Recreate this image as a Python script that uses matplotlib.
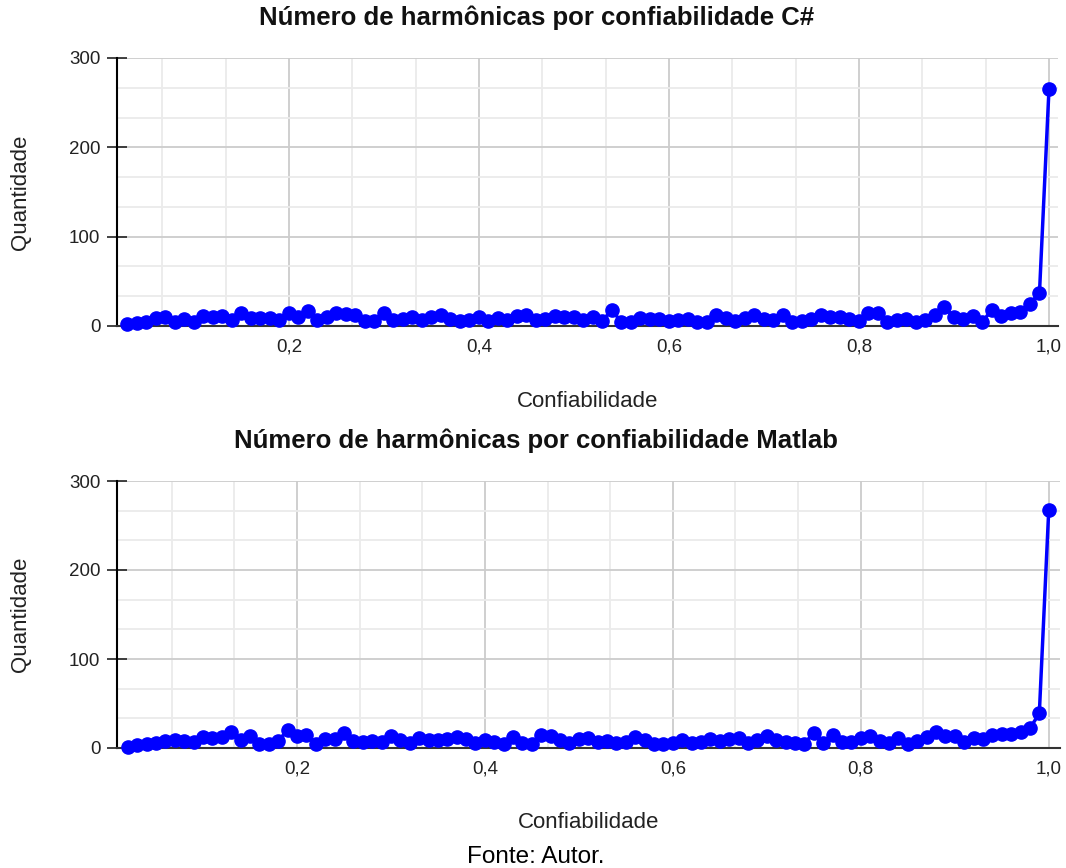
import matplotlib
matplotlib.use("Agg")
import matplotlib.pyplot as plt
from matplotlib.ticker import FuncFormatter, MultipleLocator

plt.rcParams['font.family'] = ['Liberation Sans', 'DejaVu Sans']

# Confiabilidade (eixo x) de cada série
conf_csharp = [round(0.03 + 0.01 * i, 2) for i in range(98)]
conf_matlab = [round(0.02 + 0.01 * i, 2) for i in range(99)]

# Quantidade de harmônicas - C# (0,03 a 1,00)
qtd_csharp = [
    2, 3, 5, 9, 10, 5, 8, 5, 11, 10,
    11, 7, 15, 9, 9, 9, 7, 14, 10, 17,
    7, 10, 15, 13, 12, 6, 6, 15, 7, 8,
    10, 7, 10, 12, 8, 6, 7, 10, 6, 9,
    7, 11, 12, 7, 8, 11, 10, 10, 7, 10,
    6, 18, 4, 5, 9, 8, 8, 6, 7, 8,
    5, 5, 12, 9, 6, 9, 12, 8, 7, 12,
    5, 6, 8, 12, 10, 10, 8, 6, 14, 14,
    5, 7, 8, 5, 7, 12, 21, 10, 8, 11,
    5, 18, 11, 14, 16, 25, 37, 265,
]

# Quantidade de harmônicas - Matlab (0,02 a 1,00)
qtd_matlab = [
    1, 3, 5, 6, 8, 9, 8, 7, 12, 11,
    12, 18, 9, 13, 4, 4, 8, 20, 13, 15,
    5, 10, 10, 17, 8, 7, 8, 7, 13, 9,
    6, 11, 9, 9, 10, 12, 10, 6, 9, 7,
    4, 12, 6, 5, 15, 14, 9, 6, 10, 11,
    7, 8, 6, 7, 12, 9, 5, 5, 6, 9,
    6, 7, 10, 8, 10, 11, 6, 9, 13, 9,
    7, 6, 5, 17, 6, 15, 7, 7, 11, 13,
    8, 6, 11, 5, 8, 12, 18, 13, 13, 7,
    11, 10, 15, 16, 16, 18, 22, 39, 267,
]

titulos = ["Número de harmônicas por confiabilidade C#",
           "Número de harmônicas por confiabilidade Matlab"]

W, H = 1066, 868
fig = plt.figure(figsize=(W / 100, H / 100), dpi=100)

# caixas dos eixos em pixels: esquerda, direita, topo, base
caixas = [(117, 1058, 58, 326), (117, 1060, 481, 748)]
limites_x = [(0.019, 1.0095), (0.0085, 1.012)]
series = [(conf_csharp, qtd_csharp), (conf_matlab, qtd_matlab)]
y_titulo = [18, 441]
y_xlabel = [402, 823]

virgula = FuncFormatter(lambda v, p: ("%.1f" % v).replace(".", ","))

for caixa, lim, (x, y), titulo, yt, yx in zip(caixas, limites_x, series, titulos, y_titulo, y_xlabel):
    esq, dir_, topo, base = caixa
    ax = fig.add_axes([esq / W, 1 - base / H, (dir_ - esq) / W, (base - topo) / H])
    ax.set_xlim(*lim)
    ax.set_ylim(0, 300)

    # grade principal e secundária
    ax.xaxis.set_major_locator(MultipleLocator(0.2))
    ax.xaxis.set_minor_locator(MultipleLocator(0.2 / 3))
    ax.yaxis.set_major_locator(MultipleLocator(100))
    ax.yaxis.set_minor_locator(MultipleLocator(100 / 3))
    ax.grid(True, which='major', color='#cccccc', linewidth=1.3)
    ax.grid(True, which='minor', color='#ebebeb', linewidth=1.3)
    ax.set_axisbelow(True)

    ax.xaxis.set_major_formatter(virgula)
    ax.tick_params(axis='x', which='both', length=0, labelsize=13.5, pad=9, colors='#222222')
    ax.tick_params(axis='y', which='major', direction='inout', length=14, width=1.2,
                   labelsize=13.5, pad=5, colors='#222222')
    ax.tick_params(axis='y', which='minor', length=0)

    for lado in ['top', 'right']:
        ax.spines[lado].set_visible(False)
    ax.spines['left'].set_color('black')
    ax.spines['left'].set_linewidth(1.5)
    ax.spines['bottom'].set_color('#333333')
    ax.spines['bottom'].set_linewidth(1.5)

    ax.plot(x, y, color='#0000ff', linewidth=2.5, marker='o', markersize=9.5,
            clip_on=False, zorder=3)

    fig.text(0.503, 1 - yt / H, titulo, ha='center', va='center',
             fontsize=18.5, fontweight='bold', color='#111111')
    fig.text((esq + dir_) / 2 / W, 1 - yx / H, 'Confiabilidade', ha='center', va='center',
             fontsize=16, color='#222222')
    fig.text(20 / W, 1 - (topo + base) / 2 / H, 'Quantidade', ha='center', va='center',
             rotation=90, fontsize=16, color='#222222')

fig.text(0.503, 1 - 857 / H, 'Fonte: Autor.', ha='center', va='center', fontsize=17.5)

fig.savefig('out.png', dpi=100)
